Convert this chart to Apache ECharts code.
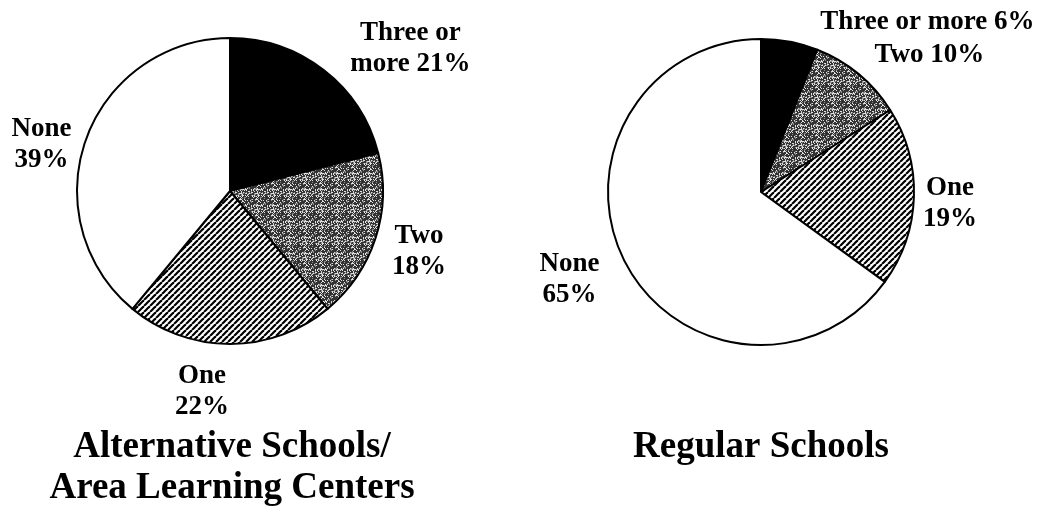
<!DOCTYPE html>
<html>
<head>
<meta charset="utf-8">
<script src="https://cdn.jsdelivr.net/npm/echarts@6/dist/echarts.min.js"></script>
<style>
  html, body { margin: 0; padding: 0; background: #fff; }
  #chart { width: 1043px; height: 507px; }
</style>
</head>
<body>
<div id="chart"></div>
<script>
  // data (percent of students)
  const categories = ['Three or more', 'Two', 'One', 'None'];
  const altValues = [21, 18, 22, 39];
  const regValues = [6, 10, 19, 65];
  // label text, {v} is replaced by the value
  const altLabels = ['Three or\nmore {v}%', 'Two\n{v}%', 'One\n{v}%', 'None\n{v}%'];
  const regLabels = ['Three or more {v}%', 'Two {v}%', 'One\n{v}%', 'None\n{v}%'];
  const titles = ['Alternative Schools/\nArea Learning Centers', 'Regular Schools'];

  const serif = '"Liberation Serif", "DejaVu Serif", serif';

  // diagonal hatch for "One"
  function hatch() {
    const s = 6;
    const c = document.createElement('canvas');
    c.width = s; c.height = s;
    const g = c.getContext('2d');
    g.fillStyle = '#fff';
    g.fillRect(0, 0, s, s);
    g.strokeStyle = '#000';
    g.lineWidth = 2.2;
    for (let k = -s; k <= s; k += s) {
      g.beginPath();
      g.moveTo(k, s);
      g.lineTo(k + s, 0);
      g.stroke();
    }
    return c;
  }

  // dark speckled grey for "Two" (fixed hash, looks like printed stipple)
  function stipple() {
    const s = 16;
    const c = document.createElement('canvas');
    c.width = s; c.height = s;
    const g = c.getContext('2d');
    g.fillStyle = '#333';
    g.fillRect(0, 0, s, s);
    for (let y = 0; y < s; y++) {
      for (let x = 0; x < s; x++) {
        const h = ((x * 73 + y * 151) ^ (x * y * 37 + 11)) % 13;
        if (h < 3) { g.fillStyle = '#e0e0e0'; g.fillRect(x, y, 1, 1); }
        else if (h < 5) { g.fillStyle = '#8a8a8a'; g.fillRect(x, y, 1, 1); }
      }
    }
    return c;
  }

  const fills = [
    '#000',
    { image: stipple(), repeat: 'repeat' },
    { image: hatch(), repeat: 'repeat' },
    '#fff'
  ];

  // distance of each label from the rim, and small nudges [dx, dy]
  const altGaps = [30, 10, 51, 25];
  const altNudge = [[3, 2], [2, 10], [-60, -3], [14, 14]];
  const regGaps = [25, 25, 2, 25];
  const regNudge = [[21, 5], [-5, 0], [2, 7], [2, 7]];

  function makePie(values, labels, gaps, nudge, center) {
    return {
      type: 'pie',
      radius: 153,
      center: center,
      startAngle: 90,
      clockwise: true,
      avoidLabelOverlap: false,
      silent: true,
      itemStyle: { borderColor: '#000', borderWidth: 2 },
      label: {
        show: true,
        position: 'outside',
        color: '#000',
        fontFamily: serif,
        fontWeight: 'bold',
        fontSize: 27,
        lineHeight: 31,
        distanceToLabelLine: 5,
        formatter: function (p) {
          return labels[p.dataIndex].replace('{v}', p.value);
        }
      },
      labelLine: { show: false, length: 15, length2: 0 },
      // center the lines of each label on each other, then nudge
      labelLayout: function (p) {
        const w = p.labelRect.width;
        const shift = p.align === 'left' ? w / 2 : (p.align === 'right' ? -w / 2 : 0);
        const n = nudge[p.dataIndex];
        return { align: 'center', dx: shift + n[0], dy: n[1] };
      },
      data: values.map(function (v, i) {
        return {
          name: categories[i],
          value: v,
          itemStyle: { color: fills[i] },
          labelLine: { show: false, length: gaps[i], length2: 0 }
        };
      })
    };
  }

  const chart = echarts.init(document.getElementById('chart'), null, { renderer: 'canvas' });
  chart.setOption({
    backgroundColor: '#fff',
    animation: false,
    series: [
      makePie(altValues, altLabels, altGaps, altNudge, [230, 191]),
      makePie(regValues, regLabels, regGaps, regNudge, [761, 192])
    ],
    graphic: [
      {
        type: 'text', x: 232, y: 427, silent: true,
        style: { text: titles[0], fill: '#000', font: 'bold 37px ' + serif, align: 'center', verticalAlign: 'top', lineHeight: 41 }
      },
      {
        type: 'text', x: 761, y: 427, silent: true,
        style: { text: titles[1], fill: '#000', font: 'bold 37px ' + serif, align: 'center', verticalAlign: 'top', lineHeight: 41 }
      }
    ]
  });
</script>
</body>
</html>
